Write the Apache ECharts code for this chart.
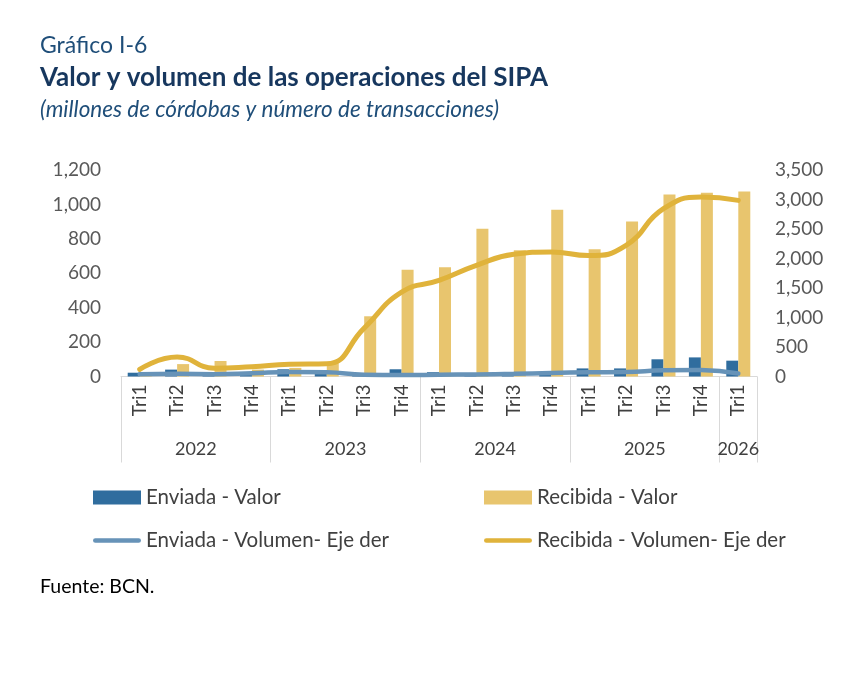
<!DOCTYPE html>
<html>
<head>
<meta charset="UTF-8">
<title>Valor y volumen de las operaciones del SIPA</title>
<script src="https://cdn.jsdelivr.net/npm/echarts@6/dist/echarts.min.js"></script>
</head>
<body style="margin:0;background:#fff;">
<div id="chart" style="width:850px;height:686px;"></div>
<script type="text/javascript">
    // datos
    var categories = ['Tri1','Tri2','Tri3','Tri4','Tri1','Tri2','Tri3','Tri4','Tri1','Tri2','Tri3','Tri4','Tri1','Tri2','Tri3','Tri4','Tri1'];
    var years = ['2022','2023','2024','2025','2026'];
    var quartersPerYear = [4, 4, 4, 4, 1];
    var enviadaValor = [22, 40, 20, 25, 42, 18, 12, 42, 25, 12, 12, 15, 47, 47, 100, 111, 92];
    var recibidaValor = [5, 72, 90, 40, 50, 78, 350, 620, 635, 858, 733, 969, 739, 901, 1058, 1068, 1075];
    var enviadaVolumen = [40, 45, 40, 55, 75, 70, 30, 25, 30, 35, 45, 60, 70, 75, 105, 110, 50];
    var recibidaVolumen = [120, 330, 140, 166, 206, 215, 820, 1430, 1630, 1885, 2071, 2111, 2049, 2223, 2844, 3041, 2985];

    // eje de años: medios trimestres, etiqueta al centro de cada bloque
    var yearSlots = [];
    var yearBounds = [0];
    var pos = 0;
    for (var i = 0; i <= categories.length * 2; i++) yearSlots.push('');
    for (var k = 0; k < years.length; k++) {
        yearSlots[pos + quartersPerYear[k]] = years[k];
        pos += quartersPerYear[k] * 2;
        yearBounds.push(pos);
    }

    var font = 'Lato';
    var lineIcon = 'path://M2,0 L48,0 A2.5,2.5 0 0 1 48,5 L2,5 A2.5,2.5 0 0 1 2,0 Z';
    var legendText = { fontFamily: font, fontSize: 20.5, color: '#404040' };
    var chart = echarts.init(document.getElementById('chart'));
    var option = {
        animation: false,
        textStyle: { fontFamily: font },
        title: [
            { text: 'Gráfico I-6', left: 35, top: 29.5, textStyle: { fontFamily: font, fontSize: 23, fontWeight: 'normal', color: '#1f4e79' } },
            { text: 'Valor y volumen de las operaciones del SIPA', left: 35, top: 60, textStyle: { fontFamily: font, fontSize: 26, fontWeight: 'bold', color: '#17375e' } },
            { text: '(millones de córdobas y número de transacciones)', left: 35, top: 93.5, textStyle: { fontFamily: font, fontSize: 22.5, fontWeight: 'normal', fontStyle: 'italic', color: '#1f4e79' } },
            { text: 'Fuente: BCN.', left: 35, top: 572, textStyle: { fontFamily: font, fontSize: 19.5, fontWeight: 'normal', color: '#000' } }
        ],
        legend: [
            {
                left: 88, top: 482, orient: 'vertical', itemGap: 22, itemWidth: 48, itemHeight: 14,
                textStyle: legendText,
                data: [
                    { name: 'Enviada - Valor', icon: 'rect' },
                    { name: 'Enviada - Volumen- Eje der', icon: lineIcon }
                ]
            },
            {
                left: 479, top: 482, orient: 'vertical', itemGap: 22, itemWidth: 48, itemHeight: 14,
                textStyle: legendText,
                data: [
                    { name: 'Recibida - Valor', icon: 'rect' },
                    { name: 'Recibida - Volumen- Eje der', icon: lineIcon }
                ]
            }
        ],
        grid: { left: 121, right: 93, top: 170, bottom: 309.5 },
        xAxis: [
            {
                type: 'category',
                data: categories,
                axisLine: { lineStyle: { color: '#d9d9d9' } },
                axisTick: { show: false },
                axisLabel: { rotate: 90, margin: 8, fontSize: 19, color: '#404040', fontFamily: font, interval: 0 }
            },
            {
                type: 'category',
                position: 'bottom',
                boundaryGap: false,
                data: yearSlots,
                axisLine: { show: false },
                axisTick: {
                    show: true, length: 86, lineStyle: { color: '#d9d9d9' },
                    interval: function (idx) { return yearBounds.indexOf(idx) >= 0; }
                },
                axisLabel: { interval: 0, margin: 64, fontSize: 18, color: '#404040', fontFamily: font }
            }
        ],
        yAxis: [
            {
                type: 'value', min: 0, max: 1200, interval: 200,
                splitLine: { show: false },
                axisLabel: { fontSize: 19, color: '#595959', fontFamily: font, margin: 20 }
            },
            {
                type: 'value', min: 0, max: 3500, interval: 500,
                splitLine: { show: false },
                axisLabel: { fontSize: 19, color: '#595959', fontFamily: font, margin: 18 }
            }
        ],
        series: [
            {
                name: 'Enviada - Valor', type: 'bar', barWidth: 12, barGap: '0%',
                itemStyle: { color: '#306d9e' }, data: enviadaValor
            },
            {
                name: 'Recibida - Valor', type: 'bar', barWidth: 12, barGap: '0%',
                itemStyle: { color: '#e8c56e' }, data: recibidaValor
            },
            {
                name: 'Recibida - Volumen- Eje der', type: 'line', yAxisIndex: 1, smooth: 0.5,
                symbol: 'none', lineStyle: { width: 5, color: '#e0b33b', cap: 'round' },
                itemStyle: { color: '#e0b33b' }, data: recibidaVolumen
            },
            {
                name: 'Enviada - Volumen- Eje der', type: 'line', yAxisIndex: 1, smooth: 0.5,
                symbol: 'none', lineStyle: { width: 4.5, color: '#6793b8', cap: 'round' },
                itemStyle: { color: '#6793b8' }, data: enviadaVolumen
            }
        ]
    };
    chart.setOption(option);
</script>
</body>
</html>
